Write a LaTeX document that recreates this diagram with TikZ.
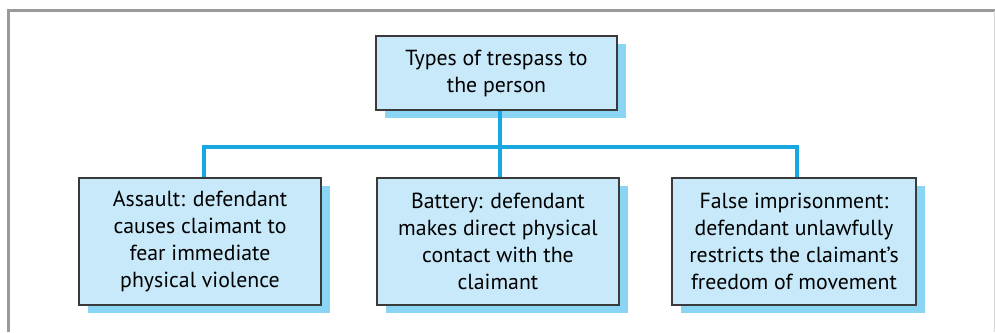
\documentclass[tikz,border=0pt]{standalone}
\usepackage{fontspec}
\setmainfont{PT Sans}
\usetikzlibrary{shadows}
\definecolor{boxfill}{HTML}{C8E9F9}
\definecolor{shadowc}{HTML}{8AD5F3}
\definecolor{linec}{HTML}{17A8E2}
\definecolor{framec}{HTML}{9A9A9A}
\definecolor{bordc}{HTML}{3A3A3A}
\tikzset{
  box/.style={draw=bordc, line width=1.4pt, fill=boxfill, align=center,
    inner sep=0pt, font=\fontsize{21.8}{27}\selectfont,
    drop shadow={shadow xshift=9pt, shadow yshift=-8pt, fill=shadowc, opacity=1}},
  conn/.style={draw=linec, line width=3.2pt}
}
\begin{document}
\begin{tikzpicture}[x=1pt,y=-1pt]
\useasboundingbox (0,0) rectangle (995,332);
\draw[framec, line width=3pt] (8,332) -- (8,10.5) -- (995,10.5);
\draw[framec!40, line width=1pt] (994,10.5) -- (994,332);
\node[box, minimum width=241pt, minimum height=74pt] (top) at (496.5,73) {Types of trespass to\\the person};
\node[box, minimum width=242pt, minimum height=127pt] (a) at (200,241.5) {Assault: defendant\\causes claimant to\\fear immediate\\physical violence};
\node[box, minimum width=242pt, minimum height=127pt] (b) at (498,241.5) {Battery: defendant\\makes direct physical\\contact with the\\claimant};
\node[box, minimum width=244pt, minimum height=127pt] (c) at (794,241.5) {False imprisonment:\\defendant unlawfully\\restricts the claimant’s\\freedom of movement};
\coordinate (bus) at (0,147);
\coordinate (ta) at ([xshift=4pt]a.north);
\coordinate (tb) at ([xshift=2pt]b.north);
\coordinate (tc) at ([xshift=3pt]c.north);
\coordinate (tt) at ([xshift=3.5pt]top.south);
\draw[conn] (tt) -- (tt |- bus);
\draw[conn] (ta) -- (ta |- bus) -- (tc |- bus) -- (tc);
\draw[conn] (tb) -- (tb |- bus);
\end{tikzpicture}
\end{document}
